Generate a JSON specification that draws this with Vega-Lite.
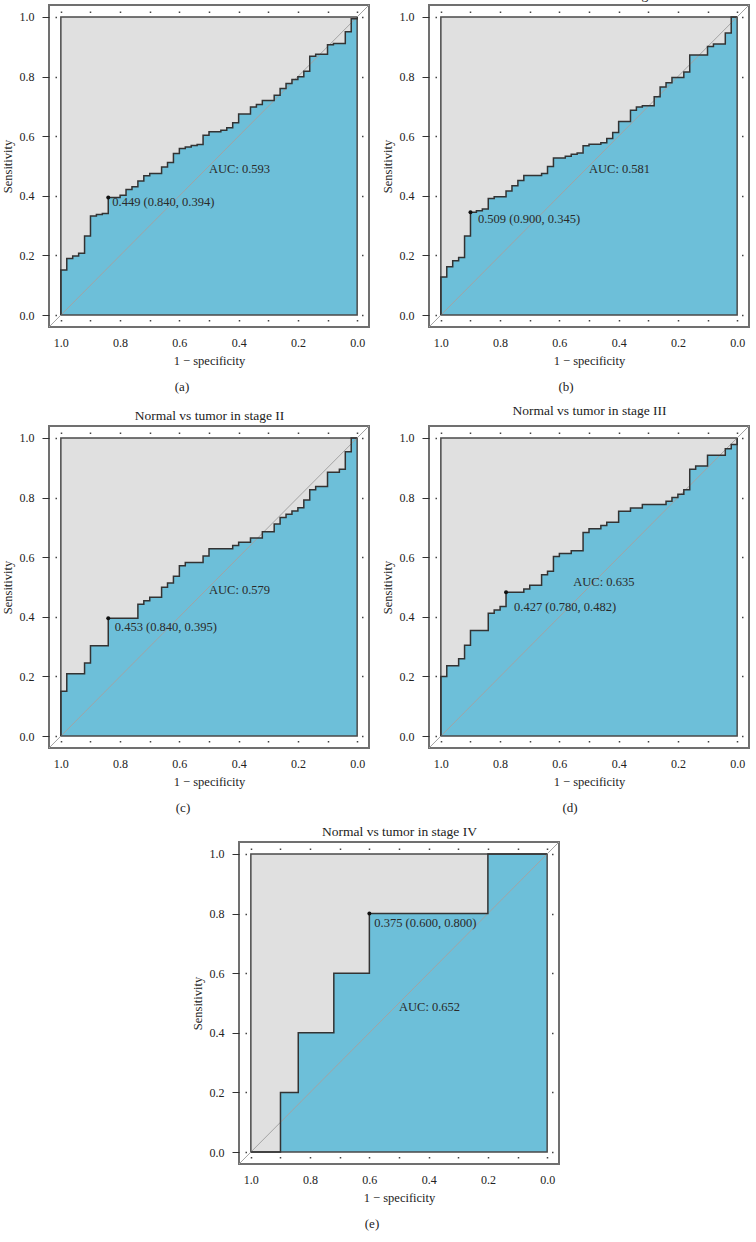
{
  "$schema": "https://vega.github.io/schema/vega-lite/v6.json",
  "padding": {"left": 0, "top": -14, "right": 0, "bottom": 0},
  "background": "white",
  "spacing": 7,
  "center": true,
  "datasets": {
    "box": [{"x0": 0, "x1": 1, "y0": 0, "y1": 1}],
    "diag": [{"x": 1.04, "y": -0.04}, {"x": -0.04, "y": 1.04}],
    "roc_a": [
      {"spec": 1, "sens": 0}, {"spec": 1, "sens": 0.151}, {"spec": 0.98, "sens": 0.19}, {"spec": 0.96, "sens": 0.198},
      {"spec": 0.94, "sens": 0.207}, {"spec": 0.92, "sens": 0.265}, {"spec": 0.9, "sens": 0.332}, {"spec": 0.88, "sens": 0.337},
      {"spec": 0.86, "sens": 0.341}, {"spec": 0.84, "sens": 0.394}, {"spec": 0.8, "sens": 0.402}, {"spec": 0.78, "sens": 0.421},
      {"spec": 0.76, "sens": 0.43}, {"spec": 0.74, "sens": 0.45}, {"spec": 0.72, "sens": 0.467}, {"spec": 0.7, "sens": 0.475},
      {"spec": 0.66, "sens": 0.497}, {"spec": 0.64, "sens": 0.512}, {"spec": 0.62, "sens": 0.542}, {"spec": 0.6, "sens": 0.559},
      {"spec": 0.58, "sens": 0.564}, {"spec": 0.56, "sens": 0.569}, {"spec": 0.54, "sens": 0.572}, {"spec": 0.52, "sens": 0.603},
      {"spec": 0.5, "sens": 0.615}, {"spec": 0.46, "sens": 0.62}, {"spec": 0.44, "sens": 0.628}, {"spec": 0.42, "sens": 0.645},
      {"spec": 0.4, "sens": 0.674}, {"spec": 0.36, "sens": 0.698}, {"spec": 0.34, "sens": 0.706}, {"spec": 0.32, "sens": 0.72},
      {"spec": 0.28, "sens": 0.737}, {"spec": 0.26, "sens": 0.76}, {"spec": 0.24, "sens": 0.777}, {"spec": 0.22, "sens": 0.79},
      {"spec": 0.2, "sens": 0.799}, {"spec": 0.18, "sens": 0.818}, {"spec": 0.16, "sens": 0.868}, {"spec": 0.14, "sens": 0.875},
      {"spec": 0.1, "sens": 0.907}, {"spec": 0.08, "sens": 0.911}, {"spec": 0.04, "sens": 0.95}, {"spec": 0.02, "sens": 0.994},
      {"spec": 0, "sens": 1}
    ],
    "roc_b": [
      {"spec": 1, "sens": 0}, {"spec": 1, "sens": 0.128}, {"spec": 0.98, "sens": 0.162}, {"spec": 0.96, "sens": 0.182},
      {"spec": 0.94, "sens": 0.193}, {"spec": 0.92, "sens": 0.265}, {"spec": 0.9, "sens": 0.345}, {"spec": 0.88, "sens": 0.35},
      {"spec": 0.86, "sens": 0.356}, {"spec": 0.84, "sens": 0.391}, {"spec": 0.82, "sens": 0.397}, {"spec": 0.78, "sens": 0.416},
      {"spec": 0.76, "sens": 0.434}, {"spec": 0.74, "sens": 0.451}, {"spec": 0.72, "sens": 0.468}, {"spec": 0.66, "sens": 0.475},
      {"spec": 0.64, "sens": 0.498}, {"spec": 0.62, "sens": 0.527}, {"spec": 0.58, "sens": 0.533}, {"spec": 0.56, "sens": 0.539},
      {"spec": 0.54, "sens": 0.544}, {"spec": 0.52, "sens": 0.568}, {"spec": 0.5, "sens": 0.573}, {"spec": 0.46, "sens": 0.578},
      {"spec": 0.44, "sens": 0.592}, {"spec": 0.42, "sens": 0.612}, {"spec": 0.4, "sens": 0.649}, {"spec": 0.36, "sens": 0.687},
      {"spec": 0.34, "sens": 0.698}, {"spec": 0.32, "sens": 0.702}, {"spec": 0.28, "sens": 0.732}, {"spec": 0.26, "sens": 0.765},
      {"spec": 0.24, "sens": 0.779}, {"spec": 0.22, "sens": 0.797}, {"spec": 0.18, "sens": 0.815}, {"spec": 0.16, "sens": 0.872},
      {"spec": 0.1, "sens": 0.901}, {"spec": 0.08, "sens": 0.909}, {"spec": 0.04, "sens": 0.946}, {"spec": 0.02, "sens": 1},
      {"spec": 0, "sens": 1}
    ],
    "roc_c": [
      {"spec": 1, "sens": 0}, {"spec": 1, "sens": 0.15}, {"spec": 0.98, "sens": 0.209}, {"spec": 0.92, "sens": 0.245},
      {"spec": 0.9, "sens": 0.303}, {"spec": 0.84, "sens": 0.395}, {"spec": 0.74, "sens": 0.442}, {"spec": 0.72, "sens": 0.454},
      {"spec": 0.7, "sens": 0.466}, {"spec": 0.66, "sens": 0.499}, {"spec": 0.64, "sens": 0.513}, {"spec": 0.62, "sens": 0.536},
      {"spec": 0.6, "sens": 0.571}, {"spec": 0.58, "sens": 0.582}, {"spec": 0.52, "sens": 0.604}, {"spec": 0.5, "sens": 0.628},
      {"spec": 0.42, "sens": 0.639}, {"spec": 0.4, "sens": 0.65}, {"spec": 0.36, "sens": 0.664}, {"spec": 0.32, "sens": 0.685},
      {"spec": 0.28, "sens": 0.711}, {"spec": 0.26, "sens": 0.733}, {"spec": 0.24, "sens": 0.744}, {"spec": 0.22, "sens": 0.755},
      {"spec": 0.2, "sens": 0.766}, {"spec": 0.18, "sens": 0.792}, {"spec": 0.16, "sens": 0.826}, {"spec": 0.14, "sens": 0.837},
      {"spec": 0.1, "sens": 0.885}, {"spec": 0.06, "sens": 0.895}, {"spec": 0.04, "sens": 0.954}, {"spec": 0.02, "sens": 1},
      {"spec": 0, "sens": 1}
    ],
    "roc_d": [
      {"spec": 1, "sens": 0}, {"spec": 1, "sens": 0.2}, {"spec": 0.98, "sens": 0.236}, {"spec": 0.94, "sens": 0.259},
      {"spec": 0.92, "sens": 0.305}, {"spec": 0.9, "sens": 0.354}, {"spec": 0.84, "sens": 0.412}, {"spec": 0.82, "sens": 0.423},
      {"spec": 0.8, "sens": 0.435}, {"spec": 0.78, "sens": 0.482}, {"spec": 0.72, "sens": 0.493}, {"spec": 0.7, "sens": 0.506},
      {"spec": 0.66, "sens": 0.541}, {"spec": 0.64, "sens": 0.553}, {"spec": 0.62, "sens": 0.602}, {"spec": 0.6, "sens": 0.612},
      {"spec": 0.56, "sens": 0.622}, {"spec": 0.52, "sens": 0.683}, {"spec": 0.5, "sens": 0.695}, {"spec": 0.46, "sens": 0.706},
      {"spec": 0.44, "sens": 0.717}, {"spec": 0.4, "sens": 0.754}, {"spec": 0.36, "sens": 0.765}, {"spec": 0.32, "sens": 0.777},
      {"spec": 0.24, "sens": 0.788}, {"spec": 0.22, "sens": 0.8}, {"spec": 0.2, "sens": 0.811}, {"spec": 0.18, "sens": 0.826},
      {"spec": 0.16, "sens": 0.895}, {"spec": 0.14, "sens": 0.906}, {"spec": 0.1, "sens": 0.942}, {"spec": 0.04, "sens": 0.964},
      {"spec": 0.02, "sens": 0.978}, {"spec": 0, "sens": 1}
    ],
    "roc_e": [
      {"spec": 1, "sens": 0}, {"spec": 0.9, "sens": 0.2}, {"spec": 0.84, "sens": 0.4}, {"spec": 0.72, "sens": 0.6},
      {"spec": 0.6, "sens": 0.8}, {"spec": 0.2, "sens": 1}, {"spec": 0, "sens": 1}
    ],
    "thr_a": [{"spec": 0.84, "sens": 0.394, "t": "0.449 (0.840, 0.394)"}],
    "thr_b": [{"spec": 0.9, "sens": 0.345, "t": "0.509 (0.900, 0.345)"}],
    "thr_c": [{"spec": 0.84, "sens": 0.395, "t": "0.453 (0.840, 0.395)"}],
    "thr_d": [{"spec": 0.78, "sens": 0.482, "t": "0.427 (0.780, 0.482)"}],
    "thr_e": [{"spec": 0.6, "sens": 0.8, "t": "0.375 (0.600, 0.800)"}],
    "auc_a": [{"spec": 0.5, "sens": 0.49, "t": "AUC: 0.593"}],
    "auc_b": [{"spec": 0.5, "sens": 0.49, "t": "AUC: 0.581"}],
    "auc_c": [{"spec": 0.5, "sens": 0.49, "t": "AUC: 0.579"}],
    "auc_d": [{"spec": 0.553, "sens": 0.516, "t": "AUC: 0.635"}],
    "auc_e": [{"spec": 0.5, "sens": 0.488, "t": "AUC: 0.652"}]
  },
  "vconcat": [
    {
      "hconcat": [
        {
          "width": 320, "height": 322,
          "title": {"text": "(a)", "orient": "bottom", "anchor": "middle", "dx": -27, "offset": 14},
          "resolve": {"axis": {"x": "independent", "y": "independent"}},
          "layer": [
            {"data": {"name": "box"}, "mark": {"type": "rect", "fill": "#e0e0e0"},
             "encoding": {
               "x": {"field": "x0", "type": "quantitative", "scale": {"domain": [-0.04, 1.04], "reverse": true, "nice": false, "zero": false},
                     "axis": {"orient": "bottom", "values": [0, 0.1, 0.2, 0.3, 0.4, 0.5, 0.6, 0.7, 0.8, 0.9, 1], "labelExpr": "abs(round(datum.value*10)) % 2 == 0 ? format(datum.value, '.1f') : ''", "ticks": false, "tickSize": 0, "domain": false, "grid": true, "gridDash": [0, 6, 1.5, 307, 1.5, 100], "gridColor": "#444", "gridWidth": 1.5, "gridOpacity": 1, "labelPadding": 10, "labelOverlap": false, "labelFlush": false, "title": "1 − specificity", "titlePadding": 6}},
               "x2": {"field": "x1"},
               "y": {"field": "y0", "type": "quantitative", "scale": {"domain": [-0.04, 1.04], "nice": false, "zero": false},
                     "axis": {"orient": "left", "values": [0, 0.2, 0.4, 0.6, 0.8, 1], "format": ".1f", "tickSize": 7, "tickColor": "#333", "tickWidth": 1, "domain": false, "grid": true, "gridDash": [0, 6, 1.5, 305, 1.5, 100], "gridColor": "#444", "gridWidth": 1.5, "gridOpacity": 1, "labelPadding": 8, "labelOverlap": false, "labelFlush": false, "title": "Sensitivity", "titlePadding": 5}},
               "y2": {"field": "y1"}}},
            {"data": {"name": "roc_a"}, "mark": {"type": "area", "interpolate": "step-after", "color": "#6dbfd9"},
             "encoding": {"x": {"field": "spec", "type": "quantitative", "axis": null}, "y": {"field": "sens", "type": "quantitative", "stack": null, "axis": null}, "y2": {"datum": 0},
               "order": [{"field": "spec", "sort": "descending"}, {"field": "sens", "sort": "ascending"}]}},
            {"data": {"name": "box"}, "mark": {"type": "rect", "filled": false, "color": "#4a4a4a", "strokeWidth": 1.5},
             "encoding": {"x": {"field": "x0", "type": "quantitative", "axis": null}, "x2": {"field": "x1"}, "y": {"field": "y0", "type": "quantitative", "axis": null}, "y2": {"field": "y1"}}},
            {"data": {"name": "diag"}, "mark": {"type": "line", "color": "#a3a3a3", "strokeWidth": 1},
             "encoding": {"x": {"field": "x", "type": "quantitative", "axis": null}, "y": {"field": "y", "type": "quantitative", "axis": null}}},
            {"data": {"name": "roc_a"}, "mark": {"type": "line", "interpolate": "step-after", "color": "#333333", "strokeWidth": 1.5},
             "encoding": {"x": {"field": "spec", "type": "quantitative", "axis": null}, "y": {"field": "sens", "type": "quantitative", "axis": null},
               "order": [{"field": "spec", "sort": "descending"}, {"field": "sens", "sort": "ascending"}]}},
            {"data": {"name": "thr_a"}, "mark": {"type": "point", "filled": true, "color": "#111", "size": 16, "opacity": 1},
             "encoding": {"x": {"field": "spec", "type": "quantitative", "axis": null}, "y": {"field": "sens", "type": "quantitative", "axis": null}}},
            {"data": {"name": "thr_a"}, "mark": {"type": "text", "align": "left", "baseline": "middle", "dx": 4, "dy": 4.5},
             "encoding": {"x": {"field": "spec", "type": "quantitative", "axis": null}, "y": {"field": "sens", "type": "quantitative", "axis": null}, "text": {"field": "t"}}},
            {"data": {"name": "auc_a"}, "mark": {"type": "text", "align": "left", "baseline": "middle"},
             "encoding": {"x": {"field": "spec", "type": "quantitative", "axis": null}, "y": {"field": "sens", "type": "quantitative", "axis": null}, "text": {"field": "t"}}}
          ]
        },
        {
          "width": 320, "height": 322,
          "title": {"text": "(b)", "orient": "bottom", "anchor": "middle", "dx": -23, "offset": 14},
          "resolve": {"axis": {"x": "independent", "y": "independent"}},
          "layer": [
            {"data": {"name": "box"}, "mark": {"type": "rect", "fill": "#e0e0e0"},
             "encoding": {
               "x": {"field": "x0", "type": "quantitative", "scale": {"domain": [-0.04, 1.04], "reverse": true, "nice": false, "zero": false},
                     "axis": {"orient": "bottom", "values": [0, 0.1, 0.2, 0.3, 0.4, 0.5, 0.6, 0.7, 0.8, 0.9, 1], "labelExpr": "abs(round(datum.value*10)) % 2 == 0 ? format(datum.value, '.1f') : ''", "ticks": false, "tickSize": 0, "domain": false, "grid": true, "gridDash": [0, 6, 1.5, 307, 1.5, 100], "gridColor": "#444", "gridWidth": 1.5, "gridOpacity": 1, "labelPadding": 10, "labelOverlap": false, "labelFlush": false, "title": "1 − specificity", "titlePadding": 6}},
               "x2": {"field": "x1"},
               "y": {"field": "y0", "type": "quantitative", "scale": {"domain": [-0.04, 1.04], "nice": false, "zero": false},
                     "axis": {"orient": "left", "values": [0, 0.2, 0.4, 0.6, 0.8, 1], "format": ".1f", "tickSize": 7, "tickColor": "#333", "tickWidth": 1, "domain": false, "grid": true, "gridDash": [0, 6, 1.5, 305, 1.5, 100], "gridColor": "#444", "gridWidth": 1.5, "gridOpacity": 1, "labelPadding": 8, "labelOverlap": false, "labelFlush": false, "title": "Sensitivity", "titlePadding": 5}},
               "y2": {"field": "y1"}}},
            {"data": {"name": "roc_b"}, "mark": {"type": "area", "interpolate": "step-after", "color": "#6dbfd9"},
             "encoding": {"x": {"field": "spec", "type": "quantitative", "axis": {"orient": "top", "labels": false, "ticks": false, "tickSize": 0, "domain": false, "grid": false, "title": "Normal vs tumor in stage I", "titleFontSize": 13.5, "titlePadding": 4}},
               "y": {"field": "sens", "type": "quantitative", "stack": null, "axis": null}, "y2": {"datum": 0},
               "order": [{"field": "spec", "sort": "descending"}, {"field": "sens", "sort": "ascending"}]}},
            {"data": {"name": "box"}, "mark": {"type": "rect", "filled": false, "color": "#4a4a4a", "strokeWidth": 1.5},
             "encoding": {"x": {"field": "x0", "type": "quantitative", "axis": null}, "x2": {"field": "x1"}, "y": {"field": "y0", "type": "quantitative", "axis": null}, "y2": {"field": "y1"}}},
            {"data": {"name": "diag"}, "mark": {"type": "line", "color": "#a3a3a3", "strokeWidth": 1},
             "encoding": {"x": {"field": "x", "type": "quantitative", "axis": null}, "y": {"field": "y", "type": "quantitative", "axis": null}}},
            {"data": {"name": "roc_b"}, "mark": {"type": "line", "interpolate": "step-after", "color": "#333333", "strokeWidth": 1.5},
             "encoding": {"x": {"field": "spec", "type": "quantitative", "axis": null}, "y": {"field": "sens", "type": "quantitative", "axis": null},
               "order": [{"field": "spec", "sort": "descending"}, {"field": "sens", "sort": "ascending"}]}},
            {"data": {"name": "thr_b"}, "mark": {"type": "point", "filled": true, "color": "#111", "size": 16, "opacity": 1},
             "encoding": {"x": {"field": "spec", "type": "quantitative", "axis": null}, "y": {"field": "sens", "type": "quantitative", "axis": null}}},
            {"data": {"name": "thr_b"}, "mark": {"type": "text", "align": "left", "baseline": "middle", "dx": 7.5, "dy": 7},
             "encoding": {"x": {"field": "spec", "type": "quantitative", "axis": null}, "y": {"field": "sens", "type": "quantitative", "axis": null}, "text": {"field": "t"}}},
            {"data": {"name": "auc_b"}, "mark": {"type": "text", "align": "left", "baseline": "middle"},
             "encoding": {"x": {"field": "spec", "type": "quantitative", "axis": null}, "y": {"field": "sens", "type": "quantitative", "axis": null}, "text": {"field": "t"}}}
          ]
        }
      ],
      "spacing": 60,
      "bounds": "flush"
    },
    {
      "hconcat": [
        {
          "width": 320, "height": 322,
          "title": {"text": "(c)", "orient": "bottom", "anchor": "middle", "dx": -26, "offset": 14},
          "resolve": {"axis": {"x": "independent", "y": "independent"}},
          "layer": [
            {"data": {"name": "box"}, "mark": {"type": "rect", "fill": "#e0e0e0"},
             "encoding": {
               "x": {"field": "x0", "type": "quantitative", "scale": {"domain": [-0.04, 1.04], "reverse": true, "nice": false, "zero": false},
                     "axis": {"orient": "bottom", "values": [0, 0.1, 0.2, 0.3, 0.4, 0.5, 0.6, 0.7, 0.8, 0.9, 1], "labelExpr": "abs(round(datum.value*10)) % 2 == 0 ? format(datum.value, '.1f') : ''", "ticks": false, "tickSize": 0, "domain": false, "grid": true, "gridDash": [0, 6, 1.5, 307, 1.5, 100], "gridColor": "#444", "gridWidth": 1.5, "gridOpacity": 1, "labelPadding": 10, "labelOverlap": false, "labelFlush": false, "title": "1 − specificity", "titlePadding": 6}},
               "x2": {"field": "x1"},
               "y": {"field": "y0", "type": "quantitative", "scale": {"domain": [-0.04, 1.04], "nice": false, "zero": false},
                     "axis": {"orient": "left", "values": [0, 0.2, 0.4, 0.6, 0.8, 1], "format": ".1f", "tickSize": 7, "tickColor": "#333", "tickWidth": 1, "domain": false, "grid": true, "gridDash": [0, 6, 1.5, 305, 1.5, 100], "gridColor": "#444", "gridWidth": 1.5, "gridOpacity": 1, "labelPadding": 8, "labelOverlap": false, "labelFlush": false, "title": "Sensitivity", "titlePadding": 5}},
               "y2": {"field": "y1"}}},
            {"data": {"name": "roc_c"}, "mark": {"type": "area", "interpolate": "step-after", "color": "#6dbfd9"},
             "encoding": {"x": {"field": "spec", "type": "quantitative", "axis": {"orient": "top", "labels": false, "ticks": false, "tickSize": 0, "domain": false, "grid": false, "title": "Normal vs tumor in stage II", "titleFontSize": 13.5, "titlePadding": 4}},
               "y": {"field": "sens", "type": "quantitative", "stack": null, "axis": null}, "y2": {"datum": 0},
               "order": [{"field": "spec", "sort": "descending"}, {"field": "sens", "sort": "ascending"}]}},
            {"data": {"name": "box"}, "mark": {"type": "rect", "filled": false, "color": "#4a4a4a", "strokeWidth": 1.5},
             "encoding": {"x": {"field": "x0", "type": "quantitative", "axis": null}, "x2": {"field": "x1"}, "y": {"field": "y0", "type": "quantitative", "axis": null}, "y2": {"field": "y1"}}},
            {"data": {"name": "diag"}, "mark": {"type": "line", "color": "#a3a3a3", "strokeWidth": 1},
             "encoding": {"x": {"field": "x", "type": "quantitative", "axis": null}, "y": {"field": "y", "type": "quantitative", "axis": null}}},
            {"data": {"name": "roc_c"}, "mark": {"type": "line", "interpolate": "step-after", "color": "#333333", "strokeWidth": 1.5},
             "encoding": {"x": {"field": "spec", "type": "quantitative", "axis": null}, "y": {"field": "sens", "type": "quantitative", "axis": null},
               "order": [{"field": "spec", "sort": "descending"}, {"field": "sens", "sort": "ascending"}]}},
            {"data": {"name": "thr_c"}, "mark": {"type": "point", "filled": true, "color": "#111", "size": 16, "opacity": 1},
             "encoding": {"x": {"field": "spec", "type": "quantitative", "axis": null}, "y": {"field": "sens", "type": "quantitative", "axis": null}}},
            {"data": {"name": "thr_c"}, "mark": {"type": "text", "align": "left", "baseline": "middle", "dx": 6.5, "dy": 8.5},
             "encoding": {"x": {"field": "spec", "type": "quantitative", "axis": null}, "y": {"field": "sens", "type": "quantitative", "axis": null}, "text": {"field": "t"}}},
            {"data": {"name": "auc_c"}, "mark": {"type": "text", "align": "left", "baseline": "middle"},
             "encoding": {"x": {"field": "spec", "type": "quantitative", "axis": null}, "y": {"field": "sens", "type": "quantitative", "axis": null}, "text": {"field": "t"}}}
          ]
        },
        {
          "width": 320, "height": 322,
          "title": {"text": "(d)", "orient": "bottom", "anchor": "middle", "dx": -19, "offset": 14},
          "resolve": {"axis": {"x": "independent", "y": "independent"}},
          "layer": [
            {"data": {"name": "box"}, "mark": {"type": "rect", "fill": "#e0e0e0"},
             "encoding": {
               "x": {"field": "x0", "type": "quantitative", "scale": {"domain": [-0.04, 1.04], "reverse": true, "nice": false, "zero": false},
                     "axis": {"orient": "bottom", "values": [0, 0.1, 0.2, 0.3, 0.4, 0.5, 0.6, 0.7, 0.8, 0.9, 1], "labelExpr": "abs(round(datum.value*10)) % 2 == 0 ? format(datum.value, '.1f') : ''", "ticks": false, "tickSize": 0, "domain": false, "grid": true, "gridDash": [0, 6, 1.5, 307, 1.5, 100], "gridColor": "#444", "gridWidth": 1.5, "gridOpacity": 1, "labelPadding": 10, "labelOverlap": false, "labelFlush": false, "title": "1 − specificity", "titlePadding": 6}},
               "x2": {"field": "x1"},
               "y": {"field": "y0", "type": "quantitative", "scale": {"domain": [-0.04, 1.04], "nice": false, "zero": false},
                     "axis": {"orient": "left", "values": [0, 0.2, 0.4, 0.6, 0.8, 1], "format": ".1f", "tickSize": 7, "tickColor": "#333", "tickWidth": 1, "domain": false, "grid": true, "gridDash": [0, 6, 1.5, 305, 1.5, 100], "gridColor": "#444", "gridWidth": 1.5, "gridOpacity": 1, "labelPadding": 8, "labelOverlap": false, "labelFlush": false, "title": "Sensitivity", "titlePadding": 5}},
               "y2": {"field": "y1"}}},
            {"data": {"name": "roc_d"}, "mark": {"type": "area", "interpolate": "step-after", "color": "#6dbfd9"},
             "encoding": {"x": {"field": "spec", "type": "quantitative", "axis": {"orient": "top", "labels": false, "ticks": false, "tickSize": 0, "domain": false, "grid": false, "title": "Normal vs tumor in stage III", "titleFontSize": 13.5, "titlePadding": 9}},
               "y": {"field": "sens", "type": "quantitative", "stack": null, "axis": null}, "y2": {"datum": 0},
               "order": [{"field": "spec", "sort": "descending"}, {"field": "sens", "sort": "ascending"}]}},
            {"data": {"name": "box"}, "mark": {"type": "rect", "filled": false, "color": "#4a4a4a", "strokeWidth": 1.5},
             "encoding": {"x": {"field": "x0", "type": "quantitative", "axis": null}, "x2": {"field": "x1"}, "y": {"field": "y0", "type": "quantitative", "axis": null}, "y2": {"field": "y1"}}},
            {"data": {"name": "diag"}, "mark": {"type": "line", "color": "#a3a3a3", "strokeWidth": 1},
             "encoding": {"x": {"field": "x", "type": "quantitative", "axis": null}, "y": {"field": "y", "type": "quantitative", "axis": null}}},
            {"data": {"name": "roc_d"}, "mark": {"type": "line", "interpolate": "step-after", "color": "#333333", "strokeWidth": 1.5},
             "encoding": {"x": {"field": "spec", "type": "quantitative", "axis": null}, "y": {"field": "sens", "type": "quantitative", "axis": null},
               "order": [{"field": "spec", "sort": "descending"}, {"field": "sens", "sort": "ascending"}]}},
            {"data": {"name": "thr_d"}, "mark": {"type": "point", "filled": true, "color": "#111", "size": 16, "opacity": 1},
             "encoding": {"x": {"field": "spec", "type": "quantitative", "axis": null}, "y": {"field": "sens", "type": "quantitative", "axis": null}}},
            {"data": {"name": "thr_d"}, "mark": {"type": "text", "align": "left", "baseline": "middle", "dx": 8, "dy": 14.5},
             "encoding": {"x": {"field": "spec", "type": "quantitative", "axis": null}, "y": {"field": "sens", "type": "quantitative", "axis": null}, "text": {"field": "t"}}},
            {"data": {"name": "auc_d"}, "mark": {"type": "text", "align": "left", "baseline": "middle"},
             "encoding": {"x": {"field": "spec", "type": "quantitative", "axis": null}, "y": {"field": "sens", "type": "quantitative", "axis": null}, "text": {"field": "t"}}}
          ]
        }
      ],
      "spacing": 60,
      "bounds": "flush"
    },
    {
      "width": 320, "height": 322,
      "title": {"text": "(e)", "orient": "bottom", "anchor": "middle", "dx": -27, "offset": 14},
      "resolve": {"axis": {"x": "independent", "y": "independent"}},
      "layer": [
        {"data": {"name": "box"}, "mark": {"type": "rect", "fill": "#e0e0e0"},
         "encoding": {
           "x": {"field": "x0", "type": "quantitative", "scale": {"domain": [-0.04, 1.04], "reverse": true, "nice": false, "zero": false},
                 "axis": {"orient": "bottom", "values": [0, 0.1, 0.2, 0.3, 0.4, 0.5, 0.6, 0.7, 0.8, 0.9, 1], "labelExpr": "abs(round(datum.value*10)) % 2 == 0 ? format(datum.value, '.1f') : ''", "ticks": false, "tickSize": 0, "domain": false, "grid": true, "gridDash": [0, 6, 1.5, 307, 1.5, 100], "gridColor": "#444", "gridWidth": 1.5, "gridOpacity": 1, "labelPadding": 10, "labelOverlap": false, "labelFlush": false, "title": "1 − specificity", "titlePadding": 6}},
           "x2": {"field": "x1"},
           "y": {"field": "y0", "type": "quantitative", "scale": {"domain": [-0.04, 1.04], "nice": false, "zero": false},
                 "axis": {"orient": "left", "values": [0, 0.2, 0.4, 0.6, 0.8, 1], "format": ".1f", "tickSize": 7, "tickColor": "#333", "tickWidth": 1, "domain": false, "grid": true, "gridDash": [0, 6, 1.5, 305, 1.5, 100], "gridColor": "#444", "gridWidth": 1.5, "gridOpacity": 1, "labelPadding": 8, "labelOverlap": false, "labelFlush": false, "title": "Sensitivity", "titlePadding": 5}},
           "y2": {"field": "y1"}}},
        {"data": {"name": "roc_e"}, "mark": {"type": "area", "interpolate": "step-after", "color": "#6dbfd9"},
         "encoding": {"x": {"field": "spec", "type": "quantitative", "axis": {"orient": "top", "labels": false, "ticks": false, "tickSize": 0, "domain": false, "grid": false, "title": "Normal vs tumor in stage IV", "titleFontSize": 13.5, "titlePadding": 4}},
           "y": {"field": "sens", "type": "quantitative", "stack": null, "axis": null}, "y2": {"datum": 0},
           "order": [{"field": "spec", "sort": "descending"}, {"field": "sens", "sort": "ascending"}]}},
        {"data": {"name": "box"}, "mark": {"type": "rect", "filled": false, "color": "#4a4a4a", "strokeWidth": 1.5},
         "encoding": {"x": {"field": "x0", "type": "quantitative", "axis": null}, "x2": {"field": "x1"}, "y": {"field": "y0", "type": "quantitative", "axis": null}, "y2": {"field": "y1"}}},
        {"data": {"name": "diag"}, "mark": {"type": "line", "color": "#a3a3a3", "strokeWidth": 1},
         "encoding": {"x": {"field": "x", "type": "quantitative", "axis": null}, "y": {"field": "y", "type": "quantitative", "axis": null}}},
        {"data": {"name": "roc_e"}, "mark": {"type": "line", "interpolate": "step-after", "color": "#333333", "strokeWidth": 1.5},
         "encoding": {"x": {"field": "spec", "type": "quantitative", "axis": null}, "y": {"field": "sens", "type": "quantitative", "axis": null},
           "order": [{"field": "spec", "sort": "descending"}, {"field": "sens", "sort": "ascending"}]}},
        {"data": {"name": "thr_e"}, "mark": {"type": "point", "filled": true, "color": "#111", "size": 16, "opacity": 1},
         "encoding": {"x": {"field": "spec", "type": "quantitative", "axis": null}, "y": {"field": "sens", "type": "quantitative", "axis": null}}},
        {"data": {"name": "thr_e"}, "mark": {"type": "text", "align": "left", "baseline": "middle", "dx": 5, "dy": 9},
         "encoding": {"x": {"field": "spec", "type": "quantitative", "axis": null}, "y": {"field": "sens", "type": "quantitative", "axis": null}, "text": {"field": "t"}}},
        {"data": {"name": "auc_e"}, "mark": {"type": "text", "align": "left", "baseline": "middle"},
         "encoding": {"x": {"field": "spec", "type": "quantitative", "axis": null}, "y": {"field": "sens", "type": "quantitative", "axis": null}, "text": {"field": "t"}}}
      ]
    }
  ],
  "config": {
    "font": "Liberation Serif",
    "view": {"stroke": "#707070", "strokeWidth": 2},
    "axis": {"labelFont": "Liberation Serif", "labelFontSize": 12, "labelColor": "#222", "titleFont": "Liberation Serif", "titleFontSize": 12.5, "titleFontWeight": "normal", "titleColor": "#222"},
    "title": {"font": "Liberation Serif", "fontSize": 13, "fontWeight": "normal", "color": "#222"},
    "text": {"font": "Liberation Serif", "fontSize": 12.5, "color": "#2a2a2a"}
  }
}
